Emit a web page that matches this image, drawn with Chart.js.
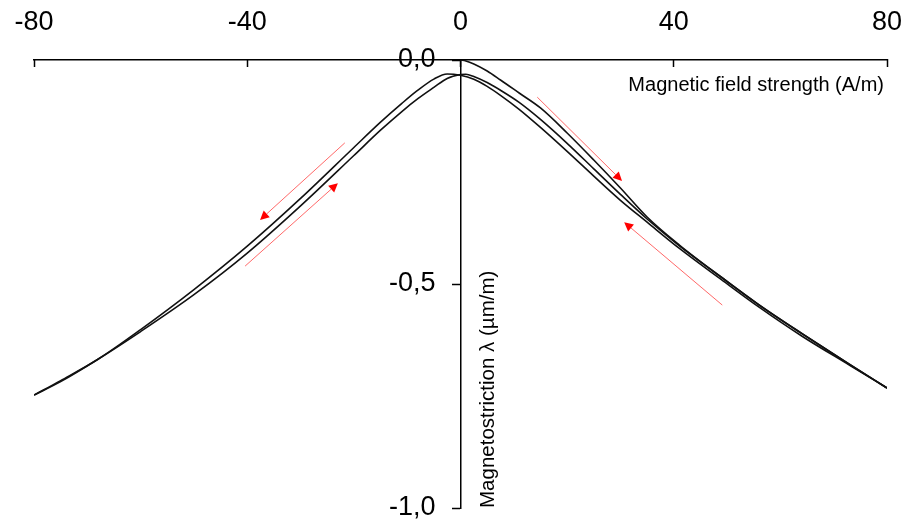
<!DOCTYPE html>
<html><head><meta charset="utf-8">
<script src="https://cdn.jsdelivr.net/npm/chart.js@4/dist/chart.umd.min.js"></script>
<style>html,body{margin:0;padding:0;background:#fff}#wrap{width:906px;height:523px;position:relative}</style>
</head><body><div id="wrap"><canvas id="c"></canvas></div>
<script>
// ---- data (H in A/m, lambda in µm/m) ----
const xTickValues = [-80, -40, 0, 40, 80];
const yTickValues = [0, -0.5, -1];

// initial magnetisation curve (H rising from 0)
const initialH = [0, 1, 2.5, 5, 7.5, 11, 15, 20, 25, 30, 35, 41, 49, 56, 64, 73, 80];
const initialL = [0, -0.0022, -0.0089, -0.0246, -0.0446, -0.0737, -0.1071, -0.1629, -0.2232, -0.2857, -0.3504, -0.4125, -0.4855, -0.5465, -0.6103, -0.6797, -0.7321];

// branch with H decreasing from +80 to -80
const descH = [80, 73, 64, 56, 49, 41, 35, 30, 25, 20, 15, 11, 7.5, 5, 2.5, 0, -2.5, -5, -8, -11, -15, -20, -30, -40, -50, -60, -68, -75, -80];
const descL = [-0.7321, -0.6815, -0.6161, -0.5518, -0.4909, -0.420, -0.362, -0.3132, -0.2592, -0.204, -0.1505, -0.1101, -0.0788, -0.0588, -0.0429, -0.0342, -0.0312, -0.0426, -0.0674, -0.0969, -0.1388, -0.1953, -0.309, -0.4156, -0.5125, -0.6018, -0.668, -0.7156, -0.748];

// branch with H increasing from -80 to +80
const ascH = [-80, -75, -68, -60, -50, -40, -30, -20, -15, -11, -8, -5, -2.5, 0, 1, 2.5, 5, 7.5, 11, 15, 20, 25, 30, 35, 41, 49, 56, 64, 73, 80];
const ascL = [-0.748, -0.7179, -0.668, -0.6062, -0.5239, -0.4311, -0.3257, -0.2132, -0.1567, -0.115, -0.0864, -0.0612, -0.0411, -0.0324, -0.0317, -0.0368, -0.0504, -0.0676, -0.0946, -0.1326, -0.186, -0.243, -0.300, -0.3549, -0.4141, -0.4855, -0.5469, -0.6105, -0.6797, -0.7321];

// red direction arrows: [H, lambda] start and tip
const arrowFrom = [[-21.7, -0.185], [-40.4, -0.46], [14.4, -0.083], [49.1, -0.547]];
const arrowTo   = [[-37.6, -0.357], [-23.0, -0.275], [30.3, -0.27], [30.7, -0.362]];

const xTitle = 'Magnetic field strength (A/m)';
const yTitle = 'Magnetostriction \u03bb (\u00b5m/m)';

const FONT = "'Liberation Sans', Arial, sans-serif";
const pts = (xs, ys) => xs.map((x, i) => ({x: x, y: ys[i]}));

const overlay = {
  id: 'overlay',
  beforeDraw(chart) {
    // move the y tick labels left of the centred axis (clear of the tick marks)
    const items = chart.scales.y.getLabelItems();
    if (!items._shifted) {
      items.forEach(it => { it.options.translation[0] -= 25; });
      items._shifted = true;
    }
  },
  afterDatasetsDraw(chart) {
    const ctx = chart.ctx, xs = chart.scales.x, ys = chart.scales.y;
    ctx.save();
    for (let i = 0; i < arrowFrom.length; i++) {
      const x1 = xs.getPixelForValue(arrowFrom[i][0]), y1 = ys.getPixelForValue(arrowFrom[i][1]);
      const x2 = xs.getPixelForValue(arrowTo[i][0]), y2 = ys.getPixelForValue(arrowTo[i][1]);
      const a = Math.atan2(y2 - y1, x2 - x1);
      const hl = 9, hw = 4.5;
      const bx = x2 - hl * Math.cos(a), by = y2 - hl * Math.sin(a);
      ctx.strokeStyle = 'rgba(255,40,40,0.7)';
      ctx.lineWidth = 1;
      ctx.beginPath(); ctx.moveTo(x1, y1); ctx.lineTo(bx, by); ctx.stroke();
      ctx.fillStyle = '#ff0000';
      ctx.beginPath();
      ctx.moveTo(x2, y2);
      ctx.lineTo(bx + hw * Math.sin(a), by - hw * Math.cos(a));
      ctx.lineTo(bx - hw * Math.sin(a), by + hw * Math.cos(a));
      ctx.closePath(); ctx.fill();
    }
    ctx.fillStyle = '#000';
    ctx.font = '20px ' + FONT;
    ctx.textAlign = 'right'; ctx.textBaseline = 'middle';
    ctx.fillText(xTitle, xs.right - 3, 85);
    ctx.font = '20.5px ' + FONT;
    ctx.translate(xs.getPixelForValue(0) + 28, ys.bottom);
    ctx.rotate(-Math.PI / 2);
    ctx.textAlign = 'left';
    ctx.fillText(yTitle, 0, 0);
    ctx.restore();
  }
};

const lineDs = (label, data) => ({
  label, data, showLine: true, borderColor: '#111', borderWidth: 1.6,
  pointRadius: 0, cubicInterpolationMode: 'monotone', fill: false
});

new Chart(document.getElementById('c'), {
  type: 'scatter',
  data: {
    datasets: [
      lineDs('Initial', pts(initialH, initialL)),
      lineDs('Decreasing H', pts(descH, descL)),
      lineDs('Increasing H', pts(ascH, ascL))
    ]
  },
  options: {
    responsive: true, maintainAspectRatio: false, animation: false,
    layout: {padding: {left: 34, right: 19, top: 0, bottom: 15}},
    plugins: {legend: {display: false}, tooltip: {enabled: false}},
    scales: {
      x: {
        type: 'linear', position: 'top', min: -80, max: 80,
        afterBuildTicks: s => { s.ticks = xTickValues.map(v => ({value: v})); },
        afterFit: s => { s.height = 60; s.paddingLeft = 0; s.paddingRight = 0; },
        grid: {drawOnChartArea: false, tickLength: -7, tickColor: '#000', tickWidth: 1.5},
        border: {color: '#000', width: 1.5},
        ticks: {padding: 28, maxRotation: 0, autoSkip: false, color: '#000',
                font: {family: FONT, size: 27}, callback: v => String(v)}
      },
      y: {
        type: 'linear', position: {x: 0}, min: -1, max: 0,
        afterBuildTicks: s => { s.ticks = yTickValues.map(v => ({value: v})); },
        afterFit: s => { s.paddingTop = 0; s.paddingBottom = 0; },
        grid: {drawOnChartArea: false, tickLength: 8, tickColor: '#000', tickWidth: 1.5},
        border: {color: '#000', width: 1.5},
        ticks: {padding: 17, color: '#000', font: {family: FONT, size: 27},
                callback: v => v.toFixed(1).replace('.', ',')}
      }
    }
  },
  plugins: [overlay]
});
</script></body></html>
